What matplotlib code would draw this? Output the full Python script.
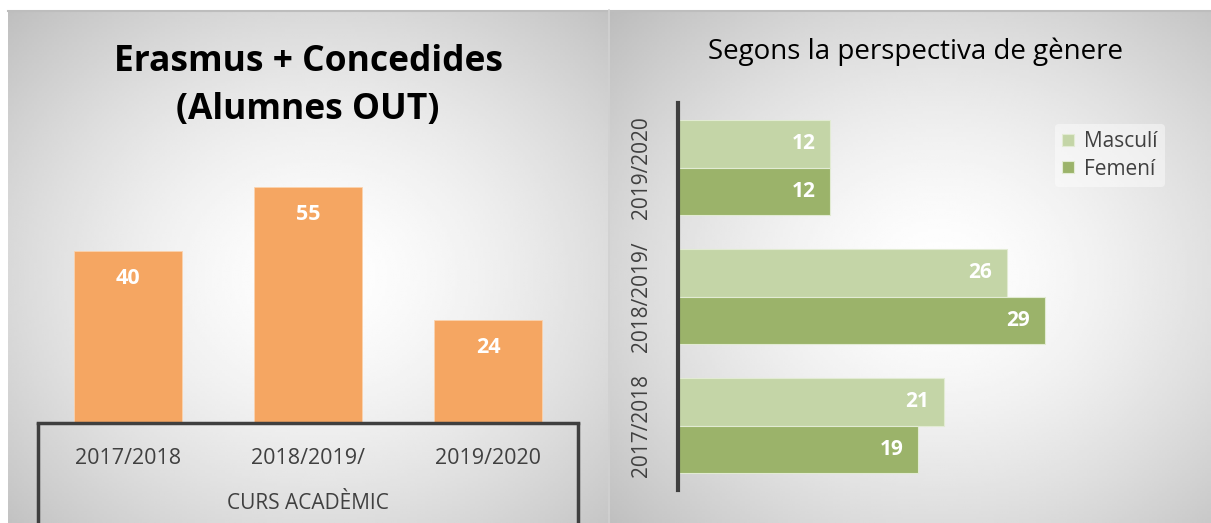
import numpy as np
import matplotlib.pyplot as plt
from matplotlib.lines import Line2D

# dades
cursos = ['2017/2018', '2018/2019/', '2019/2020']
concedides = [40, 55, 24]
masculi = [21, 26, 12]
femeni = [19, 29, 12]

plt.rcParams['font.family'] = ['Open Sans', 'DejaVu Sans']

W, H = 1211, 523
fig = plt.figure(figsize=(W / 100, H / 100), dpi=100)
fig.patch.set_facecolor('white')

taronja = '#F5A662'
verd_clar = '#C4D5A7'
verd_fosc = '#9BB36A'
gris_text = '#404040'
gris_eix = '#3F3F3F'


def fons(rect, cx, cy):
    # degradat radial del fons de cada panell
    axb = fig.add_axes(rect, zorder=-10)
    ny, nx = 200, 240
    yy, xx = np.mgrid[0:1:ny * 1j, 0:1:nx * 1j]
    r = np.sqrt(((xx - cx) / 0.75) ** 2 + ((yy - cy) / 0.75) ** 2)
    v = 1.0 - 0.26 * np.clip(r, 0, 1.2) ** 1.5
    axb.imshow(v, cmap='gray', vmin=0, vmax=1, extent=[0, 1, 1, 0],
               aspect='auto', interpolation='bilinear')
    axb.set_xlim(0, 1)
    axb.set_ylim(1, 0)
    axb.axis('off')


def px(x0, y0, x1, y1):
    return [x0 / W, 1 - y1 / H, (x1 - x0) / W, (y1 - y0) / H]


def linia(x0, y0, x1, y1, **kw):
    fig.add_artist(Line2D([x0 / W, x1 / W], [1 - y0 / H, 1 - y1 / H],
                          transform=fig.transFigure, **kw))


fons(px(8, 10, 609, 523), 0.52, 0.52)
fons(px(608, 10, 1211, 523), 0.55, 0.52)
linia(8, 10.5, 1211, 10.5, color='#BDBDBD', lw=1.5)
linia(608.5, 10, 608.5, 540, color='#D2D2D2', lw=1.2)

# ---------- panell esquerre ----------
ax1 = fig.add_axes(px(38, 130, 578, 423))
ax1.patch.set_alpha(0)
x = np.arange(len(cursos))
barres = ax1.bar(x, concedides, width=0.6, color=taronja, edgecolor='#FBD3AE', linewidth=0.6)
ax1.set_xlim(-0.5, 2.5)
ax1.set_ylim(0, (423 - 130) / 4.3)
for s in ['top', 'left', 'right']:
    ax1.spines[s].set_visible(False)
ax1.spines['bottom'].set_color(gris_eix)
ax1.spines['bottom'].set_linewidth(2.5)
ax1.set_yticks([])
ax1.set_xticks(x)
ax1.set_xticklabels(cursos, fontsize=15.5, color=gris_text)
ax1.tick_params(axis='x', length=0, pad=18)
ax1.set_xlabel('CURS ACADÈMIC', fontsize=15, color=gris_text, labelpad=17)
linia(38, 422, 38, 540, color=gris_eix, lw=2.5, solid_capstyle='butt')
linia(578, 422, 578, 540, color=gris_eix, lw=2.5, solid_capstyle='butt')
for b, v in zip(barres, concedides):
    ax1.annotate(str(v), (b.get_x() + b.get_width() / 2, v), xytext=(0, -20),
                 textcoords='offset points', ha='center', va='center',
                 color='white', fontsize=15.5, fontweight='bold')
fig.text(308 / W, 1 - 86 / H, 'Erasmus + Concedides\n(Alumnes OUT)', ha='center', va='center',
         fontsize=25.5, fontweight='bold', color='black', linespacing=1.48)

# ---------- panell dret ----------
ax2 = fig.add_axes(px(678, 103, 1180, 490))
ax2.patch.set_alpha(0)
y = np.arange(len(cursos))
h = 0.372
bm = ax2.barh(y + h / 2, masculi, height=h, color=verd_clar, edgecolor='#E2EBD3', linewidth=0.8, label='Masculí')
bf = ax2.barh(y - h / 2, femeni, height=h, color=verd_fosc, edgecolor='#E2EBD3', linewidth=0.8, label='Femení')
ax2.set_ylim(-0.5, 2.5)
ax2.set_xlim(0, (1180 - 678) / 12.65)
for s in ['top', 'bottom', 'right']:
    ax2.spines[s].set_visible(False)
ax2.spines['left'].set_color(gris_eix)
ax2.spines['left'].set_linewidth(3)
ax2.set_xticks([])
ax2.set_yticks(y)
ax2.set_yticklabels(cursos, rotation=90, va='center', fontsize=15, color=gris_text)
ax2.tick_params(axis='y', length=0, pad=19)
for barset, vals in [(bm, masculi), (bf, femeni)]:
    for b, v in zip(barset, vals):
        ax2.annotate(str(v), (v, b.get_y() + b.get_height() / 2), xytext=(-19, 0),
                     textcoords='offset points', ha='center', va='center',
                     color='white', fontsize=15, fontweight='bold')
leg = ax2.legend(loc='upper left', bbox_to_anchor=(1055 / W, 1 - 124 / H),
                 bbox_transform=fig.transFigure, fontsize=15, frameon=True,
                 handlelength=0.55, handleheight=0.55, handletextpad=0.5,
                 labelspacing=0.3, borderpad=0.35, borderaxespad=0)
leg.get_frame().set_facecolor('white')
leg.get_frame().set_alpha(0.45)
leg.get_frame().set_edgecolor('none')
for t in leg.get_texts():
    t.set_color(gris_text)
fig.text(915 / W, 1 - 52 / H, 'Segons la perspectiva de gènere', ha='center', va='center',
         fontsize=20, color='black')

fig.savefig('out.png', dpi=100)
